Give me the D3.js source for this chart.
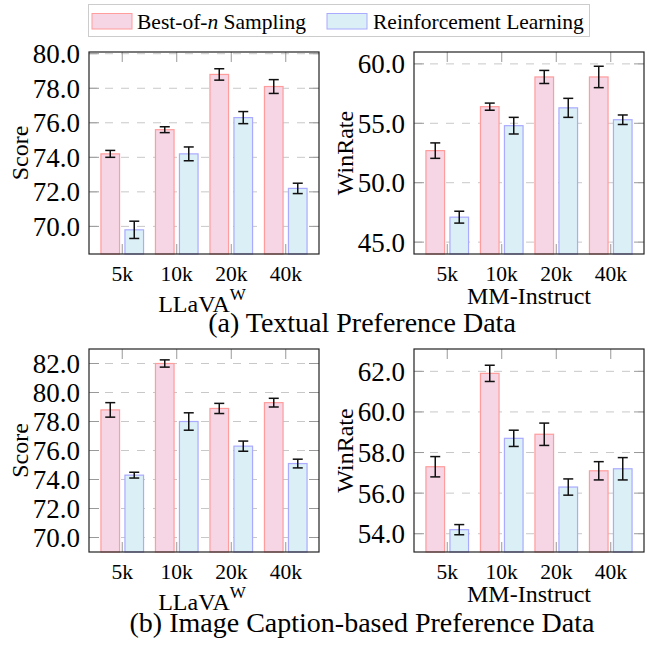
<html><head>
<title>Best-of-n vs RL</title>
<script src="https://d3js.org/d3.v7.min.js"></script>
<style>
  body { margin: 0; background: #fff; }
  svg text { fill: #000; }
  line.grid { stroke: #c8c8c8; stroke-width: 1px; stroke-dasharray: 8 8; }
  line.tick { stroke: #999; stroke-width: 1px; }
  rect.frame { fill: none; stroke: #222; stroke-width: 1.2px; }
  line.err { stroke: #111; stroke-width: 1.5px; }
</style>
</head>
<body>
<svg id="chart" width="657" height="660" font-family="'Liberation Serif', 'Times New Roman', Times, serif"></svg>
<script>
// ---- data ----
const sizes = ["5k", "10k", "20k", "40k"];

// (a) textual preference data
const textLlavaBon    = [74.2, 75.6, 78.8, 78.1];
const textLlavaBonErr = [0.2, 0.17, 0.33, 0.4];
const textLlavaRl     = [69.8, 74.2, 76.3, 72.2];
const textLlavaRlErr  = [0.5, 0.4, 0.35, 0.3];
const textMmBon       = [52.7, 56.4, 58.9, 58.9];
const textMmBonErr    = [0.65, 0.3, 0.55, 0.9];
const textMmRl        = [47.1, 54.8, 56.3, 55.3];
const textMmRlErr     = [0.5, 0.7, 0.8, 0.4];

// (b) image caption-based preference data
const capLlavaBon     = [78.8, 82.0, 78.9, 79.3];
const capLlavaBonErr  = [0.5, 0.25, 0.35, 0.3];
const capLlavaRl      = [74.3, 78.0, 76.3, 75.1];
const capLlavaRlErr   = [0.2, 0.6, 0.35, 0.3];
const capMmBon        = [57.3, 61.9, 58.9, 57.1];
const capMmBonErr     = [0.5, 0.4, 0.55, 0.45];
const capMmRl         = [54.2, 58.7, 56.3, 57.2];
const capMmRlErr      = [0.25, 0.4, 0.4, 0.55];

// y ticks per panel
const ticksTextLlava = [70, 72, 74, 76, 78, 80];
const ticksTextMm    = [45, 50, 55, 60];
const ticksCapLlava  = [70, 72, 74, 76, 78, 80, 82];
const ticksCapMm     = [54, 56, 58, 60, 62];

const seriesNames = ["Best-of-", "Reinforcement Learning"];
const captions = ["(a) Textual Preference Data", "(b) Image Caption-based Preference Data"];

const pinkFill = "#f6d6e4", pinkStroke = "#ff9c9c";
const blueFill = "#dbeff6", blueStroke = "#aaaaff";

const svg = d3.select("#chart");

const panels = [
  {x: 89,  y: 52,  w: 230, h: 202, domain: [68.4, 80.1], ticks: ticksTextLlava,
   bon: textLlavaBon, bonErr: textLlavaBonErr, rl: textLlavaRl, rlErr: textLlavaRlErr, ylabel: "Score", llava: true},
  {x: 414, y: 52,  w: 230, h: 202, domain: [44, 61], ticks: ticksTextMm,
   bon: textMmBon, bonErr: textMmBonErr, rl: textMmRl, rlErr: textMmRlErr, ylabel: "WinRate", llava: false},
  {x: 89,  y: 349, w: 230, h: 203, domain: [69, 83], ticks: ticksCapLlava,
   bon: capLlavaBon, bonErr: capLlavaBonErr, rl: capLlavaRl, rlErr: capLlavaRlErr, ylabel: "Score", llava: true},
  {x: 414, y: 349, w: 230, h: 203, domain: [53.1, 63.1], ticks: ticksCapMm,
   bon: capMmBon, bonErr: capMmBonErr, rl: capMmRl, rlErr: capMmRlErr, ylabel: "WinRate", llava: false}
];

function drawPanel(p) {
  const g = svg.append("g").attr("transform", "translate(" + p.x + "," + p.y + ")");
  const x = d3.scalePoint().domain(sizes).range([0, p.w]).padding(0.61);
  const y = d3.scaleLinear().domain(p.domain).range([p.h, 0]);

  // dashed grid
  g.selectAll("line.grid").data(p.ticks).join("line").attr("class", "grid")
    .attr("x1", 0).attr("x2", p.w)
    .attr("y1", d => y(d)).attr("y2", d => y(d));

  // inner ticks on all four sides
  g.selectAll("line.ytl").data(p.ticks).join("line").attr("class", "tick ytl")
    .attr("x1", 0).attr("x2", 10).attr("y1", d => y(d)).attr("y2", d => y(d));
  g.selectAll("line.ytr").data(p.ticks).join("line").attr("class", "tick ytr")
    .attr("x1", p.w - 10).attr("x2", p.w).attr("y1", d => y(d)).attr("y2", d => y(d));
  g.selectAll("line.xtt").data(sizes).join("line").attr("class", "tick xtt")
    .attr("x1", d => x(d)).attr("x2", d => x(d)).attr("y1", 0).attr("y2", 10);
  g.selectAll("line.xtb").data(sizes).join("line").attr("class", "tick xtb")
    .attr("x1", d => x(d)).attr("x2", d => x(d)).attr("y1", p.h - 10).attr("y2", p.h);

  // bars + error bars
  const bw = 18.6;
  const series = [
    {vals: p.bon, err: p.bonErr, off: -12, fill: pinkFill, stroke: pinkStroke},
    {vals: p.rl,  err: p.rlErr,  off: 12,  fill: blueFill, stroke: blueStroke}
  ];
  series.forEach((s, si) => {
    const rows = sizes.map((k, i) => ({k: k, v: s.vals[i], e: s.err[i]}));
    g.selectAll("rect.bar" + si).data(rows).join("rect").attr("class", "bar" + si)
      .attr("x", d => x(d.k) + s.off - bw / 2).attr("width", bw)
      .attr("y", d => y(d.v)).attr("height", d => p.h - y(d.v))
      .attr("fill", s.fill).attr("stroke", s.stroke).attr("stroke-width", 1.2);
    const eb = g.selectAll("g.err" + si).data(rows).join("g").attr("class", "err" + si)
      .attr("transform", d => "translate(" + (x(d.k) + s.off) + ",0)");
    eb.append("line").attr("class", "err").attr("x1", 0).attr("x2", 0)
      .attr("y1", d => y(d.v - d.e)).attr("y2", d => y(d.v + d.e));
    eb.append("line").attr("class", "err").attr("x1", -5).attr("x2", 5)
      .attr("y1", d => y(d.v - d.e)).attr("y2", d => y(d.v - d.e));
    eb.append("line").attr("class", "err").attr("x1", -5).attr("x2", 5)
      .attr("y1", d => y(d.v + d.e)).attr("y2", d => y(d.v + d.e));
  });

  g.append("rect").attr("class", "frame").attr("width", p.w).attr("height", p.h);

  // tick labels
  g.selectAll("text.yl").data(p.ticks).join("text").attr("class", "yl")
    .attr("x", -9).attr("y", d => y(d)).attr("dy", "0.35em")
    .attr("text-anchor", "end").attr("font-size", 27)
    .text(d3.format(".1f"));
  g.selectAll("text.xl").data(sizes).join("text").attr("class", "xl")
    .attr("x", d => x(d)).attr("y", p.h + 27)
    .attr("text-anchor", "middle").attr("font-size", 21.5)
    .text(d => d);

  // axis labels
  g.append("text").attr("transform", "translate(-61," + (p.h / 2) + ") rotate(-90)")
    .attr("text-anchor", "middle").attr("font-size", 24).text(p.ylabel);
  if (p.llava) {
    const t = g.append("text").attr("x", p.w / 2 - 2).attr("y", p.h + 58)
      .attr("text-anchor", "middle").attr("font-size", 24);
    t.append("tspan").text("LLaVA");
    t.append("tspan").attr("dy", -12).attr("font-size", 17).text("W");
  } else {
    g.append("text").attr("x", p.w / 2).attr("y", p.h + 50)
      .attr("text-anchor", "middle").attr("font-size", 24).text("MM-Instruct");
  }
}

panels.forEach(drawPanel);

// captions
svg.selectAll("text.cap").data(captions).join("text").attr("class", "cap")
  .attr("x", 362).attr("y", (d, i) => i === 0 ? 331.5 : 632)
  .attr("text-anchor", "middle").attr("font-size", 28).text(d => d);

// legend
const legend = svg.append("g");
legend.append("rect").attr("x", 88.5).attr("y", 4.5).attr("width", 501).attr("height", 32)
  .attr("fill", "#fff").attr("stroke", "#ccc");
legend.append("rect").attr("x", 92).attr("y", 13.5).attr("width", 40).attr("height", 15.5)
  .attr("fill", pinkFill).attr("stroke", pinkStroke);
legend.append("rect").attr("x", 327).attr("y", 13.5).attr("width", 40).attr("height", 15.5)
  .attr("fill", blueFill).attr("stroke", blueStroke);
const l1 = legend.append("text").attr("x", 137).attr("y", 28.5).attr("font-size", 21.5);
l1.append("tspan").text(seriesNames[0]);
l1.append("tspan").attr("font-style", "italic").text("n");
l1.append("tspan").text(" Sampling");
legend.append("text").attr("x", 373).attr("y", 28.5).attr("font-size", 21.5).text(seriesNames[1]);
</script>
</body>
</html>
